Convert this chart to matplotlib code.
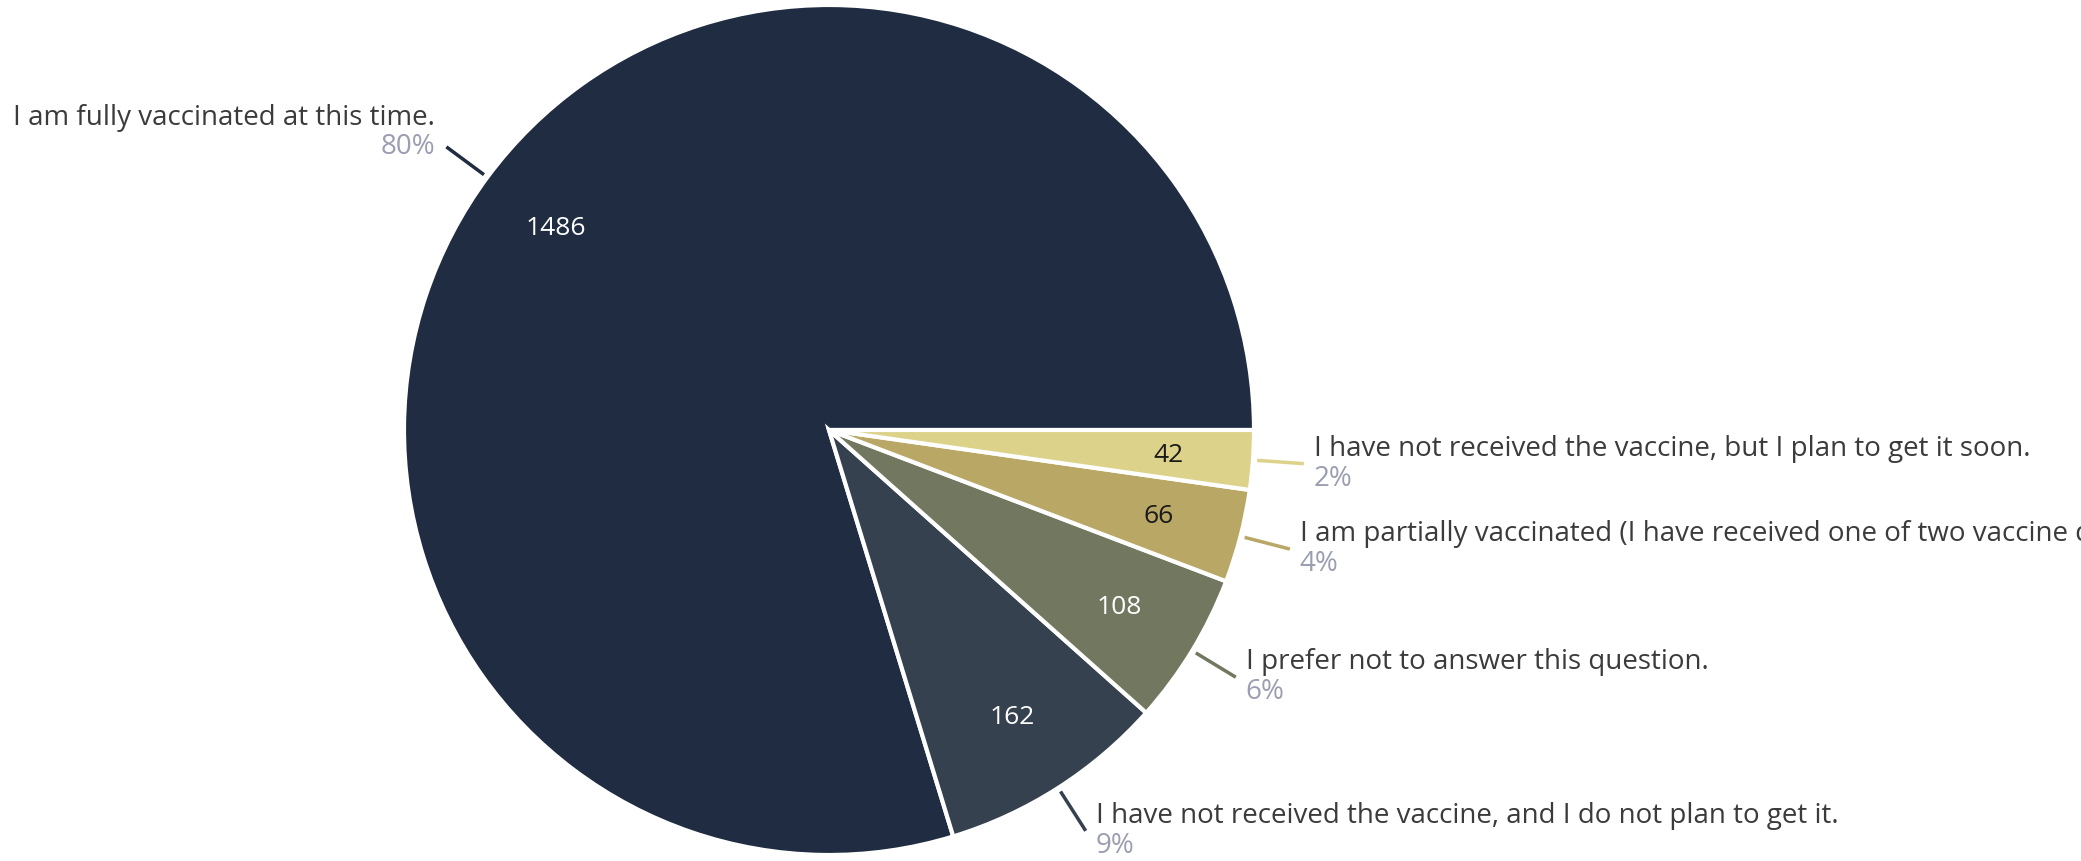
import numpy as np
import matplotlib.pyplot as plt

# Survey answers (counter-clockwise from 3 o'clock)
labels = [
    "I am fully vaccinated at this time.",
    "I have not received the vaccine, and I do not plan to get it.",
    "I prefer not to answer this question.",
    "I am partially vaccinated (I have received one of two vaccine doses).",
    "I have not received the vaccine, but I plan to get it soon.",
]
counts = [1486, 162, 108, 66, 42]
pct_labels = ["80%", "9%", "6%", "4%", "2%"]
colors = ["#1f2c41", "#36414f", "#72785f", "#b9a766", "#ddd289"]
count_colors = ["white", "white", "white", "#1a1a1a", "#1a1a1a"]

W, H = 2081, 862
cx, cy, R = 829, 431, 425

plt.rcParams["font.family"] = ["Open Sans", "DejaVu Sans"]
fig = plt.figure(figsize=(W / 100, H / 100), dpi=100)
ax = fig.add_axes([0, 0, 1, 1])

wedges, _ = ax.pie(
    counts,
    colors=colors,
    startangle=0,
    counterclock=True,
    center=(cx, cy),
    radius=R,
    wedgeprops=dict(edgecolor="white", linewidth=3),
    frame=True,
)
ax.set_xlim(0, W)
ax.set_ylim(0, H)
ax.set_aspect("equal")
ax.axis("off")

for w, n, lab, pct, tc in zip(wedges, counts, labels, pct_labels, count_colors):
    mid = np.deg2rad((w.theta1 + w.theta2) / 2)
    c, s = np.cos(mid), np.sin(mid)
    # count inside the slice
    ax.text(cx + 0.8 * R * c, cy + 0.8 * R * s, str(n), color=tc,
            fontsize=19, ha="center", va="center")
    # leader line
    x0, y0 = cx + 1.01 * R * c, cy + 1.01 * R * s
    x1, y1 = cx + 1.12 * R * c, cy + 1.12 * R * s
    ax.plot([x0, x1], [y0, y1], color=w.get_facecolor(), lw=2.5,
            solid_capstyle="butt")
    if c < 0:
        ax.text(x1 - 11, y1 + 30, lab, color="#3b3b3b", fontsize=20,
                ha="right", va="center")
        ax.text(x1 - 11, y1 + 1, pct, color="#9a9eb0", fontsize=20,
                ha="right", va="center")
    else:
        ax.text(x1 + 10, y1 + 16, lab, color="#3b3b3b", fontsize=20,
                ha="left", va="center")
        ax.text(x1 + 10, y1 - 14, pct, color="#9a9eb0", fontsize=20,
                ha="left", va="center")

fig.savefig("out.png", dpi=100)
